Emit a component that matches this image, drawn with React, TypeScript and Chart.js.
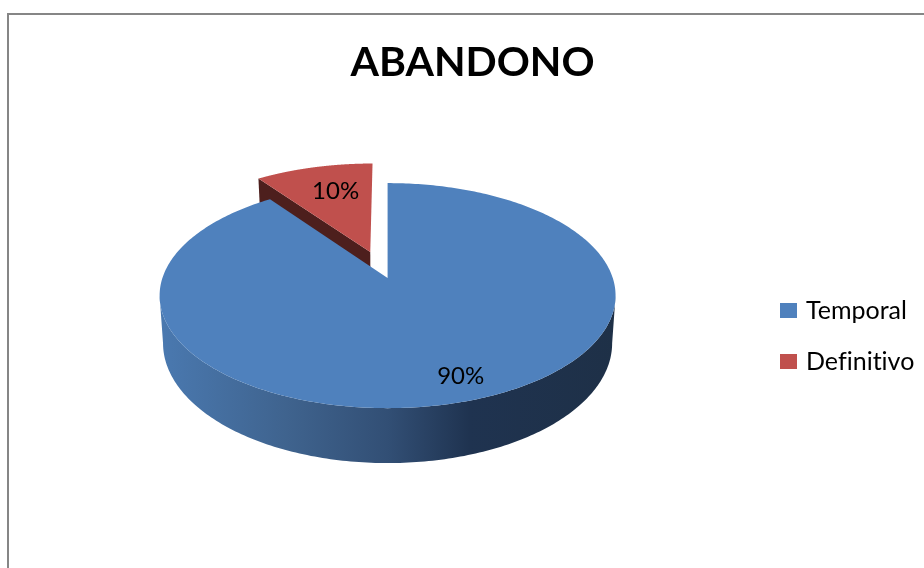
import React, { useEffect, useRef } from "react";
import { Chart, registerables } from "chart.js";

Chart.register(...registerables);

const chartTitle = "ABANDONO";
const categories = ["Temporal", "Definitivo"];
const values = [90, 10];
const sliceColors = ["#4f81bd", "#c0504d"];
const explosion = [0, 43];
const cutSideColors = ["#1f3350", "#4d1f1d"];
const labelSpots = [
  [0.285, -0.784],
  [-0.263, 0.903],
];

const FONT = "Lato";
const HALF_W = 225.2;
const HALF_H = 109.8;
const PERSPECTIVE = 0.1556;
const DEPTH = 46.4;
const BASE_SCALE = 0.985;
const STEPS = 360;

function project(cx: number, cy: number, u: number, v: number, lowered: boolean) {
  const w = 1 + PERSPECTIVE * v;
  const x = (HALF_W * u) / w;
  const y = (-HALF_H * v) / w;
  if (!lowered) return { x: cx + x, y: cy + y };
  return { x: cx + x * BASE_SCALE, y: cy + y + DEPTH / w };
}

const pie3d = {
  id: "pie3d",
  beforeUpdate(chart: any) {
    chart.ctx.letterSpacing = "0.001px";
  },
  afterLayout(chart: any) {
    const legend = chart.legend;
    const title = chart.titleBlock;
    if (legend) {
      const width = legend.right - legend.left;
      legend.left = 757.5;
      legend.right = legend.left + width;
      legend.top = 272;
      legend.bottom = 568;
    }
    if (title) {
      title.left += 1.5;
      title.right += 1.5;
    }
  },
  beforeDraw(chart: any) {
    const { ctx } = chart;
    ctx.letterSpacing = "0.001px";
    ctx.save();
    ctx.fillStyle = "#ffffff";
    ctx.fillRect(0, 0, chart.width, chart.height);
    ctx.strokeStyle = "#868686";
    ctx.lineWidth = 2;
    ctx.strokeRect(8, 14, 2000, 2000);
    ctx.restore();
  },
  beforeDatasetsDraw(chart: any) {
    const { ctx } = chart;
    const arcs = chart.getDatasetMeta(0).data as any[];
    const order = arcs.map((_, i) => i).reverse();
    ctx.save();
    for (const i of order) {
      const arc = arcs[i];
      const cx = arc.x;
      const cy = arc.y;
      const e = (arc.options.offset || 0) / arc.outerRadius;
      const mid = (arc.startAngle + arc.endAngle) / 2;
      const ou = Math.cos(mid) * e;
      const ov = -Math.sin(mid) * e;
      const rim = (a: number, low: boolean) =>
        project(cx, cy, ou + Math.cos(a), ov - Math.sin(a), low);
      const hub = (low: boolean) => project(cx, cy, ou, ov, low);
      const angles: number[] = [];
      for (let s = 0; s <= STEPS; s++) {
        angles.push(arc.startAngle + ((arc.endAngle - arc.startAngle) * s) / STEPS);
      }

      if (e > 0) {
        // cut face, seen only on the exploded slice
        ctx.fillStyle = cutSideColors[i];
        const p = [hub(false), rim(arc.startAngle, false), rim(arc.startAngle, true), hub(true)];
        ctx.beginPath();
        p.forEach((q, n) => (n ? ctx.lineTo(q.x, q.y) : ctx.moveTo(q.x, q.y)));
        ctx.closePath();
        ctx.fill();
      } else {
        // outer wall: only the part of the rim that faces the viewer
        const front = angles.filter((a) => -Math.sin(a) <= -PERSPECTIVE);
        const g = ctx.createLinearGradient(cx - 228, 0, cx + 228, 0);
        g.addColorStop(0, "#4a79b0");
        g.addColorStop(0.28, "#3f638e");
        g.addColorStop(0.5, "#324f75");
        g.addColorStop(0.68, "#1f3350");
        g.addColorStop(1, "#1e3047");
        ctx.fillStyle = g;
        ctx.beginPath();
        front.forEach((a, n) => {
          const q = rim(a, false);
          n ? ctx.lineTo(q.x, q.y) : ctx.moveTo(q.x, q.y);
        });
        [...front].reverse().forEach((a) => {
          const q = rim(a, true);
          ctx.lineTo(q.x, q.y);
        });
        ctx.closePath();
        ctx.fill();
      }

      // top face
      const h = hub(false);
      ctx.fillStyle = arc.options.backgroundColor;
      ctx.beginPath();
      ctx.moveTo(h.x, h.y);
      angles.forEach((a) => {
        const q = rim(a, false);
        ctx.lineTo(q.x, q.y);
      });
      ctx.closePath();
      ctx.fill();
    }

    // percentage labels
    const total = values.reduce((a, b) => a + b, 0);
    ctx.fillStyle = "#000000";
    ctx.font = `24px ${FONT}`;
    ctx.textAlign = "center";
    ctx.textBaseline = "middle";
    arcs.forEach((arc, i) => {
      const p = project(arc.x, arc.y, labelSpots[i][0], labelSpots[i][1], false);
      ctx.fillText(`${Math.round((values[i] / total) * 100)}%`, p.x, p.y);
    });
    ctx.restore();
    return false;
  },
};

export default function App() {
  const ref = useRef<HTMLCanvasElement | null>(null);
  useEffect(() => {
    const prev = document.body.style.margin;
    document.body.style.margin = "0";
    const chart = new Chart(ref.current as HTMLCanvasElement, {
      type: "pie",
      data: {
        labels: categories,
        datasets: [
          {
            data: values,
            backgroundColor: sliceColors,
            offset: explosion,
            borderWidth: 0,
          },
        ],
      },
      plugins: [pie3d],
      options: {
        responsive: false,
        animation: false,
        events: [],
        layout: { padding: { left: 18, right: 0, top: 0, bottom: 102 } },
        plugins: {
          tooltip: { enabled: false },
          title: {
            display: true,
            text: chartTitle,
            color: "#000000",
            font: { family: FONT, size: 41, weight: "bold", lineHeight: 1.2 },
            padding: { top: 38, bottom: 3 },
          },
          legend: {
            display: true,
            position: "right",
            align: "start",
            labels: {
              color: "#000000",
              font: { family: FONT, size: 25, lineHeight: 1.2 },
              boxWidth: 10,
              boxHeight: 8,
              padding: 26,
              generateLabels(c: any) {
                return (Chart as any).overrides.doughnut.plugins.legend.labels
                  .generateLabels(c)
                  .map((it: any) => ({
                    ...it,
                    strokeStyle: it.fillStyle,
                    lineWidth: 7,
                    lineJoin: "miter",
                  }));
              },
            },
          },
        },
      },
    } as any);
    return () => {
      chart.destroy();
      document.body.style.margin = prev;
    };
  }, []);
  return <canvas ref={ref} width={924} height={568} style={{ display: "block" }} />;
}
